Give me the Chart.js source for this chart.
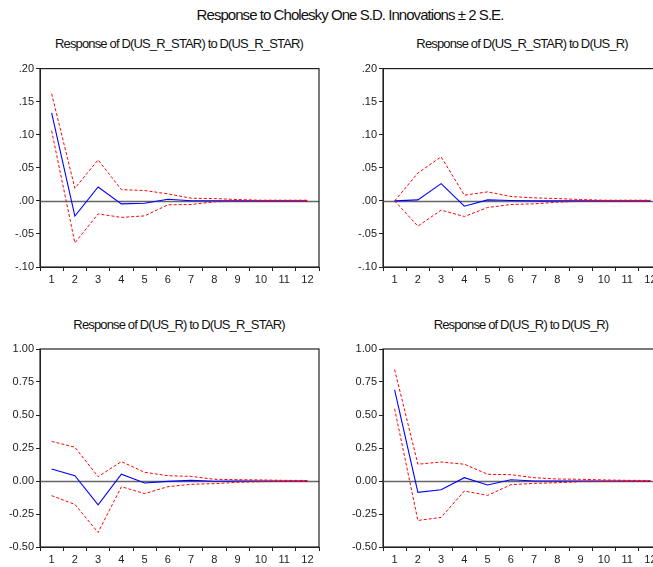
<!DOCTYPE html>
<html>
<head>
<meta charset="utf-8">
<script src="https://cdn.jsdelivr.net/npm/chart.js@4.4.0/dist/chart.umd.min.js"></script>
<style>
  html, body { margin:0; padding:0; background:#fff; width:653px; height:567px; overflow:hidden; }
  .t { position:absolute; font-family:"Liberation Sans", Arial, sans-serif; color:#111; white-space:nowrap; transform:translateX(-50%); }
  .main { font-size:15px; letter-spacing:-0.95px; }
  .sub { font-size:13px; letter-spacing:-0.85px; }
  canvas { position:absolute; }
</style>
</head>
<body>
<div class="t main" style="left:350px; top:6px;">Response to Cholesky One S.D. Innovations ± 2 S.E.</div>
<div class="t sub" style="left:179px; top:36px;">Response of D(US_R_STAR) to D(US_R_STAR)</div>
<div class="t sub" style="left:522px; top:36px;">Response of D(US_R_STAR) to D(US_R)</div>
<div class="t sub" style="left:179px; top:317px;">Response of D(US_R) to D(US_R_STAR)</div>
<div class="t sub" style="left:521px; top:317px;">Response of D(US_R) to D(US_R)</div>

<canvas id="c1" width="330" height="230" style="left:0px; top:60px;"></canvas>
<canvas id="c2" width="330" height="230" style="left:343px; top:60px;"></canvas>
<canvas id="c3" width="330" height="230" style="left:0px; top:340px;"></canvas>
<canvas id="c4" width="330" height="230" style="left:343px; top:340px;"></canvas>

<script>
const periods = ['1','2','3','4','5','6','7','8','9','10','11','12'];

// Response of D(US_R_STAR) to D(US_R_STAR)
const starStarResp  = [0.133, -0.023, 0.021, -0.0045, -0.0035, 0.0025, 0.0002, 0.0001, 0.0, 0.0, 0.0, 0.0];
const starStarUpper = [0.162, 0.019, 0.062, 0.017, 0.0156, 0.0106, 0.004, 0.0035, 0.002, 0.001, 0.001, 0.001];
const starStarLower = [0.106, -0.0635, -0.0197, -0.025, -0.0227, -0.006, -0.0055, -0.0015, -0.0005, -0.0005, -0.0005, -0.0005];

// Response of D(US_R_STAR) to D(US_R)
const starRResp  = [0.0, 0.0015, 0.026, -0.008, 0.0015, 0.0005, 0.0, 0.0, 0.0, 0.0, 0.0, 0.0];
const starRUpper = [0.0, 0.042, 0.0666, 0.0086, 0.0136, 0.0066, 0.0045, 0.0035, 0.002, 0.001, 0.001, 0.001];
const starRLower = [0.0, -0.0383, -0.014, -0.0237, -0.010, -0.0055, -0.0045, -0.002, -0.0007, -0.0005, -0.0005, -0.0005];

// Response of D(US_R) to D(US_R_STAR)
const rStarResp  = [0.091, 0.04, -0.18, 0.051, -0.015, -0.003, 0.005, -0.002, 0.0, 0.0, 0.0, 0.0];
const rStarUpper = [0.30, 0.256, 0.033, 0.147, 0.066, 0.04, 0.035, 0.013, 0.01, 0.008, 0.005, 0.004];
const rStarLower = [-0.111, -0.177, -0.39, -0.043, -0.096, -0.043, -0.025, -0.02, -0.01, -0.005, -0.003, -0.003];

// Response of D(US_R) to D(US_R)
const rRResp  = [0.69, -0.086, -0.066, 0.025, -0.03, 0.01, 0.0, 0.0, 0.0, 0.0, 0.0, 0.0];
const rRUpper = [0.844, 0.127, 0.144, 0.127, 0.051, 0.048, 0.025, 0.015, 0.013, 0.008, 0.005, 0.004];
const rRLower = [0.547, -0.299, -0.276, -0.076, -0.109, -0.028, -0.018, -0.013, -0.005, -0.004, -0.003, -0.003];

const smallTicks = [-0.10, -0.05, 0.00, 0.05, 0.10, 0.15, 0.20];
const largeTicks = [-0.50, -0.25, 0.00, 0.25, 0.50, 0.75, 1.00];

const fmtSmall = v => v.toFixed(2).replace(/^(-?)0\./, '$1.');
const fmtLarge = v => v.toFixed(2);

const frame = {
  id: 'frame',
  beforeDatasetsDraw(chart) {
    const {ctx, chartArea:a, scales:{y}} = chart;
    ctx.save();
    const z = Math.round(y.getPixelForValue(0)) + 0.5;
    ctx.strokeStyle = '#666';
    ctx.lineWidth = 1.6;
    ctx.beginPath(); ctx.moveTo(a.left, z); ctx.lineTo(a.right, z); ctx.stroke();
    ctx.restore();
  },
  afterDraw(chart) {
    const {ctx, chartArea:a} = chart;
    ctx.save();
    ctx.strokeStyle = '#222';
    ctx.lineWidth = 1.2;
    ctx.strokeRect(a.left, a.top, a.right - a.left, a.bottom - a.top);
    ctx.restore();
  }
};

function makeChart(id, resp, upper, lower, ticks, fmt, padTop) {
  const lo = ticks[0], hi = ticks[ticks.length - 1];
  return new Chart(document.getElementById(id), {
    type: 'line',
    data: {
      labels: periods,
      datasets: [
        { data: upper, borderColor: '#ff0000', borderWidth: 1, borderDash: [3, 2], pointRadius: 0, fill: false, tension: 0 },
        { data: lower, borderColor: '#ff0000', borderWidth: 1, borderDash: [3, 2], pointRadius: 0, fill: false, tension: 0 },
        { data: resp, borderColor: '#0000ff', borderWidth: 1.1, pointRadius: 0, fill: false, tension: 0 }
      ]
    },
    options: {
      responsive: false,
      animation: false,
      layout: { padding: { top: padTop, right: 11, left: 0, bottom: 0 } },
      plugins: { legend: { display: false }, tooltip: { enabled: false }, title: { display: false } },
      scales: {
        x: {
          type: 'category',
          offset: true,
          grid: { offset: true, drawOnChartArea: false, drawTicks: true, tickLength: 4, color: '#222' },
          border: { color: '#222', width: 1 },
          ticks: { color: '#222', font: { family: 'Liberation Sans', size: 11 }, padding: 2, maxRotation: 0, autoSkip: false },
          afterFit(s) { s.height = 23; }
        },
        y: {
          min: lo, max: hi,
          afterBuildTicks(s) { s.ticks = ticks.map(v => ({ value: v })); },
          grid: { drawOnChartArea: false, drawTicks: true, tickLength: 4, color: '#222' },
          border: { color: '#222', width: 1 },
          ticks: { color: '#222', font: { family: 'Liberation Sans', size: 11 }, padding: 2, callback: v => fmt(v) },
          afterFit(s) { s.width = 40; }
        }
      }
    },
    plugins: [frame]
  });
}

makeChart('c1', starStarResp, starStarUpper, starStarLower, smallTicks, fmtSmall, 8);
makeChart('c2', starRResp, starRUpper, starRLower, smallTicks, fmtSmall, 8);
makeChart('c3', rStarResp, rStarUpper, rStarLower, largeTicks, fmtLarge, 9);
makeChart('c4', rRResp, rRUpper, rRLower, largeTicks, fmtLarge, 9);
</script>
</body>
</html>
